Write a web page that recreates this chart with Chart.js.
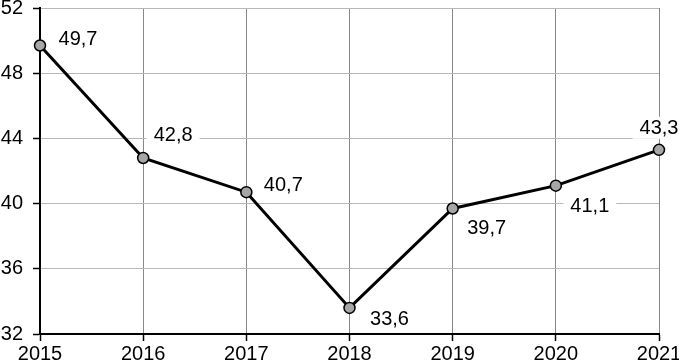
<!DOCTYPE html>
<html>
<head>
<meta charset="utf-8">
<script src="https://cdn.jsdelivr.net/npm/chart.js@4/dist/chart.umd.min.js"></script>
<style>
html,body{margin:0;padding:0;background:#fff;overflow:hidden;}
#wrap{width:679px;height:361px;position:relative;}
</style>
</head>
<body>
<div id="wrap"><canvas id="c" width="679" height="361"></canvas></div>
<script>
const years = ["2015","2016","2017","2018","2019","2020","2021"];
const values = [49.7, 42.8, 40.7, 33.6, 39.7, 41.1, 43.3];
const yTicks = [32, 36, 40, 44, 48, 52];
// label placement relative to each point (pixels)
const labelOffsets = [[38,-7],[30,-23],[37,-8],[40,11],[34,19],[34,20],[0,-22]];

const FONT = "'Liberation Sans', Arial, sans-serif";

const labelPlugin = {
  id: 'valueLabels',
  afterDatasetsDraw(chart) {
    const ctx = chart.ctx;
    const meta = chart.getDatasetMeta(0);
    ctx.save();
    ctx.font = "20px " + FONT;
    ctx.textAlign = 'center';
    ctx.textBaseline = 'middle';
    meta.data.forEach((pt, i) => {
      const txt = values[i].toFixed(1).replace('.', ',');
      const x = pt.x + labelOffsets[i][0];
      const y = pt.y + labelOffsets[i][1];
      const w = ctx.measureText(txt).width;
      ctx.fillStyle = '#fff';
      ctx.fillRect(x - w/2 - 7, y - 11, w + 14, 22);
      ctx.fillStyle = '#000';
      ctx.fillText(txt, x, y + 1);
    });
    ctx.restore();
  }
};

new Chart(document.getElementById('c'), {
  type: 'line',
  data: {
    labels: years,
    datasets: [{
      data: values,
      borderColor: '#000',
      borderWidth: 3,
      pointRadius: 5.5,
      pointBackgroundColor: '#a6a6a6',
      pointBorderColor: '#000',
      pointBorderWidth: 1.5,
      tension: 0
    }]
  },
  options: {
    responsive: false,
    animation: false,
    devicePixelRatio: 1,
    layout: { padding: { top: 8, right: 20, bottom: 0, left: 0 } },
    plugins: { legend: { display: false }, tooltip: { enabled: false } },
    scales: {
      x: {
        type: 'category',
        offset: false,
        grid: { color: '#888', lineWidth: 1, tickLength: 7, tickColor: '#000', tickWidth: 1.5 },
        border: { color: '#000', width: 2 },
        ticks: { color: '#000', font: { family: FONT, size: 20 }, padding: 1, autoSkip: false, maxRotation: 0 },
        afterFit(s) { s.height = 27; s.paddingLeft = 0; s.paddingRight = 0; }
      },
      y: {
        min: 32, max: 52,
        afterBuildTicks(s) { s.ticks = yTicks.map(v => ({ value: v })); },
        grid: { color: '#b8b8b8', lineWidth: 1, tickLength: 7, tickColor: '#000', tickWidth: 1.5 },
        border: { color: '#000', width: 2 },
        ticks: { color: '#000', font: { family: FONT, size: 20 }, padding: 10 },
        afterFit(s) { s.width = 40; s.paddingTop = 0; s.paddingBottom = 0; }
      }
    }
  },
  plugins: [labelPlugin]
});
</script>
</body>
</html>
